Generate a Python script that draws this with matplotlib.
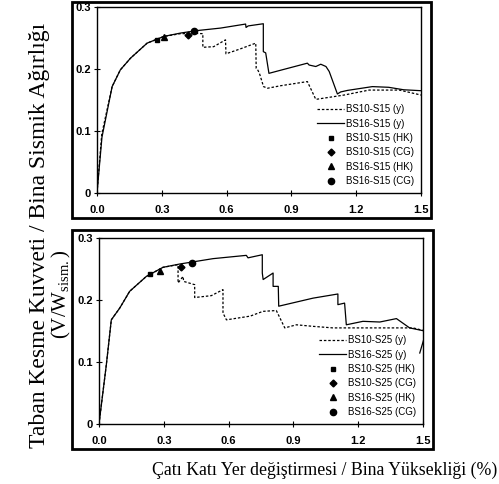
import matplotlib
matplotlib.use("Agg")
import matplotlib.pyplot as plt
from matplotlib.patches import Rectangle

plt.rcParams['font.family'] = ['Liberation Sans', 'DejaVu Sans']
plt.rcParams['mathtext.fontset'] = 'custom'
plt.rcParams['mathtext.rm'] = 'Liberation Serif'

# ---------------- top panel (S15) ----------------
s15_bs10_x = [0.0, 0.022, 0.07, 0.108, 0.155, 0.232, 0.309, 0.387, 0.42, 0.45, 0.49,
              0.49, 0.54, 0.595, 0.597, 0.66, 0.735, 0.737, 0.745, 0.752, 0.771,
              0.79, 0.85, 0.974, 1.013, 1.144, 1.26, 1.4, 1.5]
s15_bs10_y = [0.0, 0.095, 0.1716, 0.1986, 0.2174, 0.2417, 0.2525, 0.257, 0.257, 0.2575, 0.257,
              0.235, 0.236, 0.247, 0.2245, 0.232, 0.2417, 0.201, 0.198, 0.193, 0.1716,
              0.169, 0.173, 0.1797, 0.151, 0.158, 0.166, 0.166, 0.158]

s15_bs16_x = [0.0, 0.023, 0.07, 0.108, 0.155, 0.232, 0.309, 0.387, 0.464, 0.572, 0.688,
              0.69, 0.70, 0.770, 0.770, 0.781, 0.796, 0.85, 0.974, 0.982, 1.013, 1.036,
              1.06, 1.075, 1.113, 1.128, 1.16, 1.275, 1.35, 1.42, 1.5]
s15_bs16_y = [0.0, 0.09, 0.1716, 0.1986, 0.2174, 0.2417, 0.2525, 0.258, 0.262, 0.266, 0.2725,
              0.267, 0.2695, 0.273, 0.228, 0.226, 0.193, 0.198, 0.2094, 0.2064, 0.204, 0.2077,
              0.204, 0.196, 0.1597, 0.163, 0.1655, 0.1716, 0.1705, 0.1665, 0.165]

s15_hk10 = (0.278, 0.246)
s15_cg10 = (0.42, 0.255)
s15_hk16 = (0.312, 0.251)
s15_cg16 = (0.448, 0.2606)

# ---------------- bottom panel (S25) ----------------
s25_bs10_x = [0.0, 0.034, 0.057, 0.096, 0.142, 0.219, 0.296, 0.366, 0.366, 0.389, 0.392,
              0.443, 0.443, 0.52, 0.574, 0.574, 0.59, 0.70, 0.759, 0.821, 0.86, 0.914,
              0.991, 1.083, 1.3, 1.454, 1.5]
s25_bs10_y = [0.0, 0.0957, 0.168, 0.187, 0.214, 0.238, 0.2527, 0.257, 0.2275, 0.238, 0.230,
              0.2247, 0.204, 0.207, 0.2167, 0.179, 0.168, 0.174, 0.1817, 0.183, 0.155, 0.160,
              0.1575, 0.155, 0.155, 0.155, 0.151]

s25_bs16_x = [0.0, 0.034, 0.057, 0.096, 0.142, 0.219, 0.296, 0.373, 0.528, 0.682, 0.69,
              0.756, 0.756, 0.76, 0.806, 0.806, 0.83, 0.832, 0.991, 1.106, 1.106, 1.137,
              1.145, 1.222, 1.30, 1.377, 1.438, 1.5, 1.515, 1.485]
s25_bs16_y = [0.0, 0.0957, 0.168, 0.187, 0.214, 0.238, 0.2527, 0.258, 0.2667, 0.272, 0.268,
              0.273, 0.2435, 0.233, 0.2435, 0.222, 0.222, 0.19, 0.203, 0.2097, 0.1925, 0.195,
              0.160, 0.1656, 0.1645, 0.170, 0.155, 0.1505, 0.15, 0.1145]

s25_hk10 = (0.2346, 0.242)
s25_cg10 = (0.381, 0.254)
s25_hk16 = (0.281, 0.246)
s25_cg16 = (0.432, 0.2597)

xticks = [0.0, 0.3, 0.6, 0.9, 1.2, 1.5]
xticklabels = ['0.0', '0.3', '0.6', '0.9', '1.2', '1.5']
yticks = [0.0, 0.1, 0.2, 0.3]
yticklabels = ['0', '0.1', '0.2', '0.3']

fig = plt.figure(figsize=(4.99, 4.84), dpi=100)

# outer chart frames (figure pixels -> fractions)
W, H = 499, 484
for (x0, y0, x1, y1) in [(72, 2, 431, 218), (72, 230, 433, 449)]:
    fig.patches.append(Rectangle((x0 / W, 1 - y1 / H), (x1 - x0) / W, (y1 - y0) / H,
                                 transform=fig.transFigure, fill=False,
                                 edgecolor='black', linewidth=2))

ax1 = fig.add_axes([97 / W, 1 - 193 / H, 324 / W, 186 / H])
ax2 = fig.add_axes([99 / W, 1 - 424 / H, 324 / W, 186 / H])

dot = (0, (2, 1.5))
panels = [
    (ax1, s15_bs10_x, s15_bs10_y, s15_bs16_x, s15_bs16_y,
     s15_hk10, s15_cg10, s15_hk16, s15_cg16, 'S15'),
    (ax2, s25_bs10_x, s25_bs10_y, s25_bs16_x, s25_bs16_y,
     s25_hk10, s25_cg10, s25_hk16, s25_cg16, 'S25'),
]

for ax, x10, y10, x16, y16, hk10, cg10, hk16, cg16, tag in panels:
    ax.plot(x10, y10, color='black', linestyle=dot, linewidth=0.9,
            label=f'BS10-{tag} (y)')
    ax.plot(x16, y16, color='black', linestyle='-', linewidth=0.9,
            label=f'BS16-{tag} (y)')
    ax.plot(*hk10, linestyle='none', marker='s', color='black', markersize=3.5,
            label=f'BS10-{tag} (HK)')
    ax.plot(*cg10, linestyle='none', marker='D', color='black', markersize=3.5,
            label=f'BS10-{tag} (CG)')
    ax.plot(*hk16, linestyle='none', marker='^', color='black', markersize=4.5,
            label=f'BS16-{tag} (HK)')
    ax.plot(*cg16, linestyle='none', marker='o', color='black', markersize=4.5,
            label=f'BS16-{tag} (CG)')

    ax.set_xlim(0, 1.5)
    ax.set_ylim(0, 0.3)
    ax.set_xticks(xticks)
    ax.set_xticklabels(xticklabels, fontweight='bold', fontsize=8)
    ax.set_yticks(yticks)
    ax.set_yticklabels(yticklabels, fontweight='bold', fontsize=8)
    ax.tick_params(direction='inout', length=5, width=0.8)
    ax.tick_params(axis='x', pad=6)
    ax.tick_params(axis='y', pad=2)
    for s in ax.spines.values():
        s.set_linewidth(1.0)
    ax.legend(loc='lower right', bbox_to_anchor=(1.0, 0.0), frameon=False,
              fontsize=7, handlelength=2.8, handletextpad=0.2,
              labelspacing=0.45, borderaxespad=0.3)

fig.text(40 / W, 1 - 235 / H, 'Taban Kesme Kuvveti / Bina Sismik Ağırlığı',
         rotation=90, ha='center', va='center', family='Liberation Serif',
         fontsize=17)
fig.text(61 / W, 1 - 294 / H, r'(V/W$_{\mathrm{sism.}}$)',
         rotation=90, ha='center', va='center', family='Liberation Serif',
         fontsize=15)
fig.text(325 / W, 1 - 470 / H, 'Çatı Katı Yer değiştirmesi / Bina Yüksekliği (%)',
         ha='center', va='center', family='Liberation Serif', fontsize=12.8)

fig.savefig('out.png', dpi=100)
